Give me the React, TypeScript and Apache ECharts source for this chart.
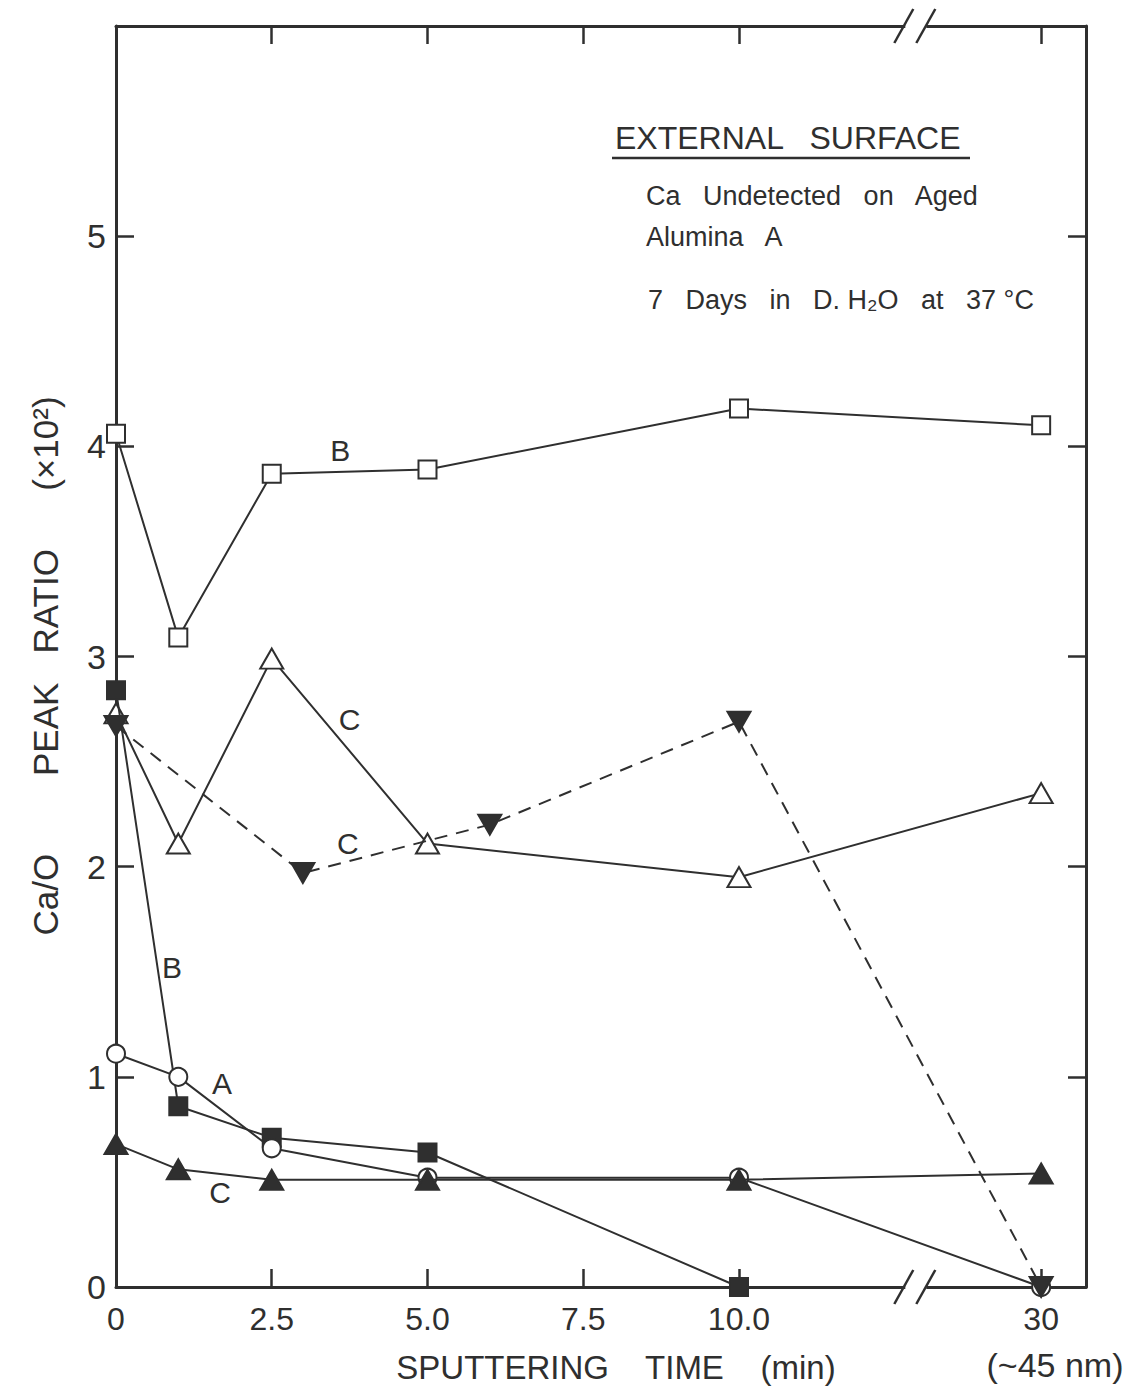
import React, { useEffect, useRef } from "react";
import * as echarts from "echarts";

// ---- data ----
const TIMES = [0, 1, 2.5, 5, 10, 30];
const INV_TRI_TIMES = [0, 3, 6, 10, 30];
const FILLED_SQ_TIMES = [0, 1, 2.5, 5, 10];

const openSquareB = [4.06, 3.09, 3.87, 3.89, 4.18, 4.1];
const openTriangleC = [2.73, 2.11, 2.99, 2.11, 1.95, 2.35];
const filledInvTriangleC = [2.67, 1.97, 2.2, 2.69, 0.0];
const filledSquareB = [2.84, 0.86, 0.71, 0.64, 0.0];
const openCircleA = [1.11, 1.0, 0.66, 0.52, 0.52, 0.0];
const filledTriangleC = [0.68, 0.56, 0.51, 0.51, 0.51, 0.54];

const X_TICKS = [0, 2.5, 5, 7.5, 10, 30];
const X_TICK_LABELS = ["0", "2.5", "5.0", "7.5", "10.0", "30"];
const Y_TICKS = [0, 1, 2, 3, 4, 5];
const Y_TICK_LABELS = ["0", "1", "2", "3", "4", "5"];

const CURVE_LABELS = [
  { text: "B", t: 3.6, v: 3.98 },
  { text: "C", t: 3.75, v: 2.7 },
  { text: "C", t: 3.72, v: 2.11 },
  { text: "B", t: 0.9, v: 1.52 },
  { text: "A", t: 1.7, v: 0.97 },
  { text: "C", t: 1.67, v: 0.45 },
];

// broken axis: 30 min is drawn after the break
const BREAK_AT = 14.85;
const BREAK_MARK = 12.83;
const X_MAX = 15.57;
const axisPos = (t: number) => (t > 10 ? BREAK_AT : t);

const INK = "#2f2f2f";
const FONT = "Liberation Sans";

export default function App() {
  const ref = useRef<HTMLDivElement>(null);

  useEffect(() => {
    document.body.style.margin = "0";
    const chart = echarts.init(ref.current!, null, { renderer: "svg" });

    const xPositions = X_TICKS.map(axisPos);
    const xLabel = (val: number) => {
      const i = xPositions.findIndex((p) => Math.abs(p - val) < 1e-6);
      return i >= 0 ? X_TICK_LABELS[i] : "";
    };
    const yLabel = (val: number) => {
      const i = Y_TICKS.findIndex((p) => Math.abs(p - val) < 1e-6);
      return i >= 0 ? Y_TICK_LABELS[i] : "";
    };

    const mk = (
      name: string,
      times: number[],
      values: number[],
      symbol: string,
      filled: boolean,
      opts: any = {}
    ) => ({
      type: "line",
      name,
      data: times.map((t, i) => [axisPos(t), values[i]]),
      symbol,
      symbolSize: opts.size ?? 18,
      symbolRotate: opts.rotate ?? 0,
      showSymbol: true,
      z: opts.z ?? 2,
      emphasis: { disabled: true },
      lineStyle: {
        color: INK,
        width: 2,
        type: opts.dashed ? [13, 9] : "solid",
      },
      itemStyle: {
        color: filled ? INK : "#ffffff",
        borderColor: INK,
        borderWidth: 2,
      },
    });

    const tickStyle = { show: true, inside: true, length: 18, lineStyle: { color: INK, width: 2.5 } };
    const lineStyle = { color: INK, width: 3 };

    chart.setOption({
      animation: false,
      backgroundColor: "#ffffff",
      grid: { left: 116, right: 48, top: 26, bottom: 102, containLabel: false },
      xAxis: [
        {
          type: "value",
          min: 0,
          max: X_MAX,
          position: "bottom",
          axisLine: { show: true, onZero: false, lineStyle },
          axisTick: { ...tickStyle, customValues: xPositions.slice(1) },
          axisLabel: {
            show: true,
            customValues: xPositions,
            formatter: xLabel,
            margin: 16,
            fontSize: 32,
            color: INK,
            fontFamily: FONT,
          },
          splitLine: { show: false },
        },
        {
          type: "value",
          min: 0,
          max: X_MAX,
          position: "top",
          axisLine: { show: true, onZero: false, lineStyle },
          axisTick: { ...tickStyle, customValues: xPositions.slice(1) },
          axisLabel: { show: false },
          splitLine: { show: false },
        },
      ],
      yAxis: [
        {
          type: "value",
          min: 0,
          max: 6,
          position: "left",
          axisLine: { show: true, onZero: false, lineStyle },
          axisTick: { ...tickStyle, customValues: Y_TICKS.slice(1) },
          axisLabel: {
            show: true,
            customValues: Y_TICKS,
            formatter: yLabel,
            margin: 10,
            fontSize: 34,
            color: INK,
            fontFamily: FONT,
          },
          splitLine: { show: false },
        },
        {
          type: "value",
          min: 0,
          max: 6,
          position: "right",
          axisLine: { show: true, onZero: false, lineStyle },
          axisTick: { ...tickStyle, customValues: Y_TICKS.slice(1) },
          axisLabel: { show: false },
          splitLine: { show: false },
        },
      ],
      series: [
        mk("B open", TIMES, openSquareB, "rect", false, { size: 18 }),
        mk("C open", TIMES, openTriangleC, "triangle", false, { size: [23, 20] }),
        mk("B filled", FILLED_SQ_TIMES, filledSquareB, "rect", true, { size: 18, z: 3 }),
        mk("A open", TIMES, openCircleA, "circle", false, { size: 18, z: 3 }),
        mk("C filled", TIMES, filledTriangleC, "triangle", true, { size: [23, 20], z: 4 }),
        mk("C inverted", INV_TRI_TIMES, filledInvTriangleC, "triangle", true, {
          size: [23, 20],
          rotate: 180,
          dashed: true,
          z: 5,
        }),
      ],
    });

    const px = (x: number, y: number) => chart.convertToPixel({ gridIndex: 0 }, [x, y]) as number[];

    const graphics: any[] = [];
    // axis break marks
    [0, 6].forEach((yv) => {
      const [bx, by] = px(BREAK_MARK, yv);
      graphics.push({
        type: "rect",
        z: 100,
        shape: { x: bx - 10, y: by - 3, width: 21, height: 6 },
        style: { fill: "#ffffff" },
      });
      graphics.push({
        type: "line",
        z: 101,
        shape: { x1: bx - 21, y1: by + 17, x2: bx - 2, y2: by - 17 },
        style: { stroke: INK, lineWidth: 2.5 },
      });
      graphics.push({
        type: "line",
        z: 101,
        shape: { x1: bx + 1, y1: by + 17, x2: bx + 20, y2: by - 17 },
        style: { stroke: INK, lineWidth: 2.5 },
      });
    });

    // curve letters
    CURVE_LABELS.forEach((l) => {
      const [lx, ly] = px(axisPos(l.t), l.v);
      graphics.push({
        type: "text",
        z: 50,
        x: lx,
        y: ly,
        style: {
          text: l.text,
          fontSize: 30,
          fontFamily: FONT,
          fill: INK,
          align: "center",
          verticalAlign: "middle",
        },
      });
    });

    // annotation block
    const txt = (text: string, x: number, y: number, size: number, align = "left") => ({
      type: "text",
      z: 50,
      x,
      y,
      style: { text, fontSize: size, fontFamily: FONT, fill: INK, align, verticalAlign: "middle" },
    });
    graphics.push(txt("EXTERNAL   SURFACE", 615, 138, 32));
    graphics.push({
      type: "line",
      z: 50,
      shape: { x1: 612, y1: 158, x2: 970, y2: 158 },
      style: { stroke: INK, lineWidth: 2.5 },
    });
    graphics.push(txt("Ca   Undetected   on   Aged", 646, 196, 27));
    graphics.push(txt("Alumina   A", 646, 237, 27));
    graphics.push(txt("7   Days   in   D. H\u2082O   at   37 \u00b0C", 648, 300, 27));

    // axis titles
    graphics.push({
      type: "text",
      z: 50,
      x: 45,
      y: 666,
      rotation: Math.PI / 2,
      style: {
        text: "Ca/O        PEAK   RATIO      (\u00d710\u00b2)",
        fontSize: 35,
        fontFamily: FONT,
        fill: INK,
        align: "center",
        verticalAlign: "middle",
      },
    });
    graphics.push(txt("SPUTTERING    TIME    (min)", 616, 1367, 33, "center"));
    graphics.push(txt("(~45 nm)", 1055, 1365, 34, "center"));

    chart.setOption({ graphic: graphics });

    return () => chart.dispose();
  }, []);

  return <div ref={ref} style={{ width: 1134, height: 1389 }} />;
}
